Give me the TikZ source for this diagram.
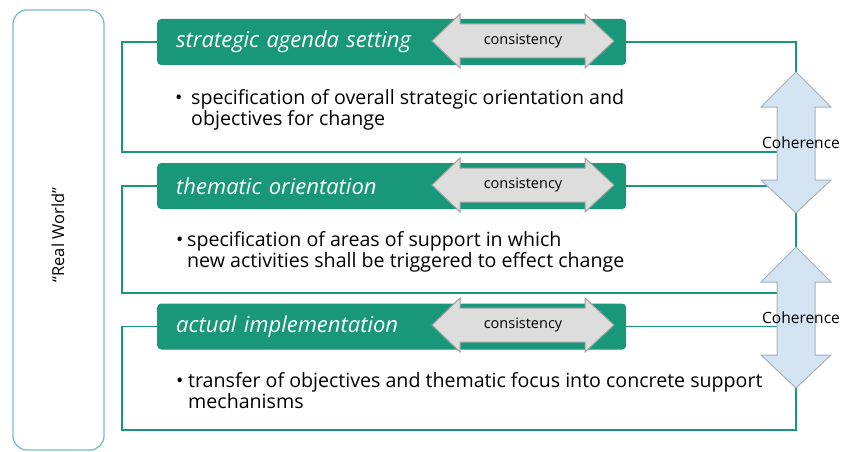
\documentclass[tikz,border=0pt]{standalone}
\usepackage{fontspec}
\setmainfont{Open Sans}
\usepackage{tikz}
\usetikzlibrary{arrows.meta}

\definecolor{agendagreen}{RGB}{24,152,120}
\definecolor{worldteal}{RGB}{120,190,195}
\definecolor{arrowgray}{RGB}{221,221,221}
\definecolor{arrowedge}{RGB}{160,160,160}
\definecolor{coherenceblue}{RGB}{212,228,242}
\definecolor{coherenceedge}{RGB}{165,178,190}

\tikzset{
  stagebox/.style={fill=agendagreen, rounded corners=4pt, text=white, text width=431pt, inner xsep=19pt, minimum height=46pt, align=left, anchor=west, font=\fontsize{22}{24}\selectfont\itshape},
  bracket/.style={draw=agendagreen, line width=1.5pt},
  worldbox/.style={draw=worldteal, line width=1.3pt, rounded corners=14pt, minimum width=91pt, minimum height=440pt},
  bullettext/.style={anchor=base west, align=left, inner sep=0pt, font=\fontsize{19.6}{19}\selectfont},
  consistarrow/.style={fill=arrowgray, draw=arrowedge, line width=1pt},
  coherencearrow/.style={fill=coherenceblue, draw=coherenceedge, line width=1pt},
  smalllabel/.style={inner sep=0pt, font=\fontsize{14.5}{16}\selectfont},
}

\begin{document}
\begin{tikzpicture}[x=1pt, y=-1pt]
  \useasboundingbox (0,0) rectangle (843,452);

  % real world frame
  \node[worldbox] (world) at (58.5,230) {};
  \node[smalllabel, rotate=90, font=\fontsize{16.5}{18}\selectfont] (worldlabel) at (58,235) {“Real World”};

  % the three levels
  \node[stagebox] (strategic) at (157,42) {strategic agenda setting};
  \node[stagebox] (thematic) at (157,186) {thematic orientation};
  \node[stagebox] (actual) at (157,326.5) {actual implementation};

  % base of these nodes is their last line
  \node[bullettext] (strategictext) at (175,125) {\makebox[16pt][l]{\textbullet}specification of overall strategic orientation and\\\hspace*{16pt}objectives for change};
  \node[bullettext] (thematictext) at (176,267) {\makebox[11pt][l]{\textbullet}specification of areas of support in which\\\hspace*{11pt}new activities shall be triggered to effect change};
  \node[bullettext] (actualtext) at (176,408) {\makebox[12pt][l]{\textbullet}transfer of objectives and thematic focus into concrete support\\\hspace*{12pt}mechanisms};

  % ends of the coherence arrows
  \coordinate (cohA-top) at (796,72);
  \coordinate (cohA-bot) at (796,213);
  \coordinate (cohB-top) at (796,247);
  \coordinate (cohB-bot) at (796,388);
  \coordinate (strategicL) at (122,152);
  \coordinate (strategicR) at (796,152);
  \coordinate (thematicL) at (122,293);
  \coordinate (thematicR) at (796,293);
  \coordinate (actualL) at (122,430);

  % brackets round each level
  \draw[bracket] (strategic.west) -| (strategicL) -- (strategicR);
  \draw[bracket] (strategic.east) -| (cohA-top);
  \draw[bracket] (thematic.west) -| (thematicL) -- (thematicR);
  \draw[bracket] (thematic.east) -- (thematic.east -| cohA-top);
  \draw[bracket] (cohA-bot) -- (cohB-top);
  \draw[bracket] (actual.west) -| (actualL) -| (cohB-bot);
  \draw[bracket] (actual.east) -- (actual.east -| cohB-top);

  % consistency arrows
  \foreach \y/\n in {41/consA, 185/consB, 325/consC} {
    \draw[consistarrow] (432,\y) -- (460,\y-27) -- (460,\y-17) -- (585,\y-17) -- (585,\y-27)
      -- (614,\y) -- (585,\y+27) -- (585,\y+17) -- (460,\y+17) -- (460,\y+27) -- cycle;
    \node[smalllabel] (\n) at (523,\y) {consistency};
  }

  % coherence arrows
  \foreach \t/\n in {72/cohA, 247/cohB} {
    \draw[coherencearrow] (796,\t) -- (831,\t+35) -- (815,\t+35) -- (815,\t+108) -- (831,\t+108)
      -- (796,\t+141) -- (761,\t+108) -- (777,\t+108) -- (777,\t+35) -- (761,\t+35) -- cycle;
    \node[smalllabel, font=\fontsize{15.5}{17}\selectfont] (\n-label) at (801,\t+71) {Coherence};
  }
\end{tikzpicture}
\end{document}
